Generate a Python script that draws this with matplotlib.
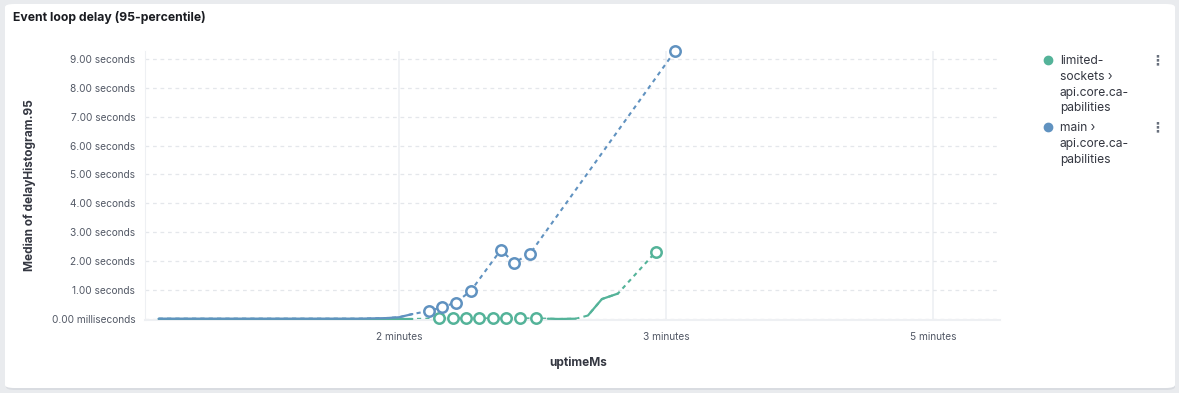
import matplotlib.pyplot as plt
import numpy as np
from matplotlib.patches import FancyBboxPatch
from matplotlib.lines import Line2D

plt.rcParams['font.family'] = ['Inter', 'DejaVu Sans']

nan = np.nan

# uptimeMs / seconds
green_x = [48000, 64000, 80000, 96000, 108000, 116000, 120000, 124000, 128000,
           132100, 134100, 136100, 138100, 140100, 142100, 144100, 146100, 148100,
           150100, 152100, 154200, 156300, 158600, 161000, 162800, 164600, 168000,
           173000, 175000, 176600, 180800, 185600, 191000, 197000]
green_y = [0.0, 0.0, 0.0, 0.0, 0.0, 0.0, 0.0, 0.0, nan,
           0.02, nan, 0.02, nan, 0.02, nan, 0.02, nan, 0.02,
           nan, 0.02, nan, 0.02, nan, 0.02, nan, 0.01, 0.0,
           0.01, nan, 0.12, 0.69, 0.88, nan, 2.33]

blue_x = [48000, 64000, 80000, 96000, 108000, 116000, 120000, 124000, 126500,
          129000, 131000, 133000, 135000, 137000, 139000, 141500, 146000, 150500,
          152500, 154500, 157000, 159200, 180000, 202700]
blue_y = [0.01, 0.01, 0.01, 0.01, 0.01, 0.03, 0.06, 0.17, nan,
          0.28, nan, 0.41, nan, 0.57, nan, 0.97, nan, 2.39,
          nan, 1.95, nan, 2.25, nan, 9.27]

x_ticks = [120000, 200000, 280000]
x_labels = ["2 minutes", "3 minutes", "5 minutes"]
y_ticks = [0, 1, 2, 3, 4, 5, 6, 7, 8, 9]
y_labels = ["0.00 milliseconds"] + ["%.2f seconds" % v for v in y_ticks[1:]]

series = [
    ("limited-\nsockets ›\napi.core.ca-\npabilities", green_x, green_y, "#54B399"),
    ("main ›\napi.core.ca-\npabilities", blue_x, blue_y, "#6092C0"),
]

fig = plt.figure(figsize=(11.79, 3.93), dpi=100)
fig.patch.set_facecolor("#e9ebee")

W, H = 1179.0, 393.0
shadow = FancyBboxPatch((6 / W, 1 - 390 / H), 1169 / W, 385 / H,
                        boxstyle="round,pad=0,rounding_size=0.008",
                        transform=fig.transFigure, facecolor="#d9dce1",
                        edgecolor="none", zorder=-3)
card = FancyBboxPatch((5 / W, 1 - 388 / H), 1170 / W, 384 / H,
                      boxstyle="round,pad=0,rounding_size=0.008",
                      transform=fig.transFigure, facecolor="white",
                      edgecolor="none", zorder=-2)
fig.add_artist(shadow)
fig.add_artist(card)

ax = fig.add_axes([145 / W, 1 - 320 / H, 855 / W, 269 / H])
ax.set_facecolor("none")

for label, xs, ys, col in series:
    xs = np.array(xs, dtype=float)
    ys = np.array(ys, dtype=float)
    ok = ~np.isnan(ys)
    # dashed connectors across gaps
    ax.plot(xs[ok], ys[ok], color=col, lw=1.5, linestyle=(0, (2, 2)), zorder=2)
    # solid where data is continuous
    ax.plot(xs, ys, color=col, lw=1.6, zorder=3, solid_capstyle="round")
    # isolated points
    iso = []
    for i in range(len(ys)):
        if np.isnan(ys[i]):
            continue
        left = i == 0 or np.isnan(ys[i - 1])
        right = i == len(ys) - 1 or np.isnan(ys[i + 1])
        if left and right:
            iso.append(i)
    ax.plot(xs[iso], ys[iso], linestyle="none", marker="o", markersize=7.5,
            markerfacecolor="white", markeredgecolor=col, markeredgewidth=1.8,
            zorder=4, clip_on=False)

ax.set_xlim(43900, 300060)
ax.set_ylim(-0.035, 9.27)
ax.set_xticks(x_ticks)
ax.set_xticklabels(x_labels)
ax.set_yticks(y_ticks)
ax.set_yticklabels(y_labels)
ax.tick_params(length=0, labelsize=7.3, colors="#535966", pad=7)
ax.tick_params(axis="x", pad=9)

ax.grid(axis="y", color="#e4e7eb", linestyle=(0, (3, 3)), lw=0.9)
ax.grid(axis="x", color="#eef0f3", linestyle="-", lw=1.2)
ax.set_axisbelow(True)
for s in ["top", "right"]:
    ax.spines[s].set_visible(False)
ax.spines["left"].set_color("#eef0f3")
ax.spines["bottom"].set_color("#eef0f3")
ax.spines["bottom"].set_linewidth(1.5)

ax.set_xlabel("uptimeMs", fontsize=8.5, fontweight="bold", color="#343741")
ax.set_ylabel("Median of delayHistogram.95", fontsize=8.5, fontweight="bold",
              color="#343741")
ax.xaxis.set_label_coords((578 - 145) / 855, (320 - 363) / 269)
ax.yaxis.set_label_coords((30 - 145) / 855, 0.5)
ax.xaxis.label.set_va("center")
ax.yaxis.label.set_va("center")

fig.text(13 / W, 1 - 17 / H, "Event loop delay (95-percentile)", fontsize=8.8,
         fontweight="bold", color="#1a1c21", va="center", ha="left")

# legend
leg_y = [60, 127]
for (label, xs, ys, col), ly in zip(series, leg_y):
    fig.add_artist(Line2D([1048 / W], [1 - ly / H], transform=fig.transFigure,
                          marker="o", markersize=6, color=col, linestyle="none"))
    fig.text(1060 / W, 1 - (ly - 5) / H, label, fontsize=8.7, color="#343741",
             va="top", ha="left", linespacing=1.42)
    fig.text(1157 / W, 1 - ly / H, "⋮", fontsize=10, color="#69707d",
             va="center", ha="center", family="DejaVu Sans", fontweight="bold")

fig.savefig("out.png", dpi=100, facecolor=fig.get_facecolor())
